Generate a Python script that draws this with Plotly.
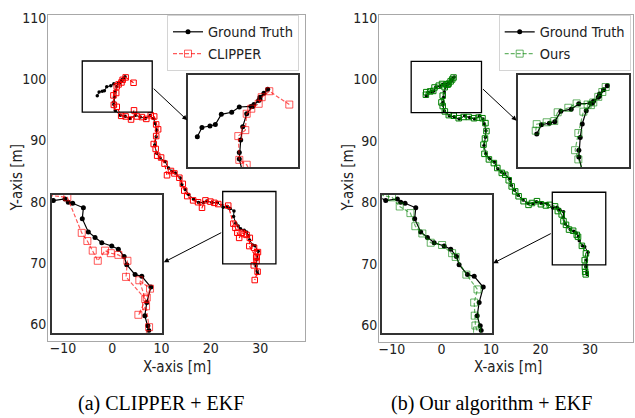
import plotly.graph_objects as go

# ---------------- trajectory data (metres) ----------------
gt_x = [-3.05, -2.68, -2.04, -1.61, -1.13, -0.30, 0.31, 1.24, 1.48, 1.86, 1.96, 2.28, 2.58,
        1.96, 1.38, 0.90, 0.58, 0.42, 0.31, 0.31,
        0.60, 1.60, 2.60, 3.60, 4.70, 5.70, 6.70, 7.70, 8.40, 8.70, 9.00, 8.90, 8.60, 9.00,
        9.70, 10.70, 11.40, 12.10, 12.80, 13.80, 14.10, 14.80, 15.50, 16.50, 17.50, 18.50,
        19.20, 20.20, 21.30,
        22.50, 23.35, 23.59, 23.91, 24.69, 24.61, 25.05, 25.54, 26.03, 26.76, 27.24, 27.66,
        27.85, 28.46, 28.95, 29.61, 29.31, 29.17, 29.39, 29.46]
gt_y = [97.30, 97.90, 98.00, 98.10, 98.76, 98.90, 99.24, 99.28, 99.40, 99.66, 99.88, 100.14, 100.40,
        99.75, 99.28, 98.80, 97.95, 97.08, 96.27, 95.84,
        94.89, 94.08, 93.92, 93.55, 94.08, 93.82, 93.55, 94.08, 93.55, 92.74, 91.66, 90.60, 89.24, 87.90,
        87.10, 86.56, 85.48, 84.95, 84.68, 83.87, 82.80, 81.98, 81.18, 80.37, 79.84, 79.84,
        80.10, 79.84, 79.84,
        79.08, 79.22, 78.94, 78.86, 78.48, 77.58, 76.48, 76.02, 75.58, 75.31, 75.04, 74.43,
        73.75, 72.93, 72.79, 71.89, 70.61, 69.51, 68.69, 68.28]

clipper_x = [4.31, 2.71, 2.10, 1.86, 1.27, 0.90, 0.79, 0.23, 0.31, 0.90,
             1.80, 2.70, 3.80, 4.40, 5.00, 6.00, 6.90, 7.80, 8.50, 8.90, 9.30, 8.90, 8.40,
             8.80, 9.10, 9.90, 10.60, 11.10, 11.90, 12.60, 13.60, 14.30, 14.60, 15.20, 16.40,
             17.40, 18.20, 18.90, 19.90, 20.70, 21.50,
             23.52, 24.57, 24.98, 25.37, 25.74, 26.27, 26.69, 27.24, 27.90, 27.80, 29.20,
             28.77, 29.55, 29.31, 28.70, 29.26, 29.48, 28.90]
clipper_y = [99.40, 100.27, 99.88, 99.45, 99.13, 98.80, 97.73, 97.34, 95.79, 95.47,
             94.00, 93.90, 93.40, 94.90, 93.90, 93.80, 93.50, 94.10, 93.90, 92.60, 91.80, 90.70, 89.40,
             88.60, 87.50, 87.20, 86.20, 84.30, 85.00, 84.60, 83.90, 82.90, 81.80, 80.90, 80.20,
             79.90, 79.00, 80.20, 80.00, 79.80, 79.60,
             79.35, 76.40, 75.72, 74.92, 74.08, 74.92, 74.71, 74.57, 74.08, 72.74, 70.90,
             72.46, 71.76, 71.02, 69.59, 70.30, 68.56, 67.20]

ours_x = [-3.13, -3.05, -2.26, -1.65, -1.38, -0.53, 0.13, 1.01, 1.46, 1.86, 2.18, 2.45,
          1.27, 0.67, 0.27, 0.01, 0.27,
          0.70, 1.50, 2.50, 3.50, 4.50, 5.50, 6.60, 7.50, 8.30, 8.90, 9.10, 8.80, 8.50, 8.70,
          9.60, 10.60, 11.30, 12.20, 12.90, 13.60, 14.20, 14.90, 15.60, 16.60, 17.60, 18.30,
          19.30, 20.10, 21.10, 21.90,
          22.96, 23.52, 24.30, 24.66, 25.17, 25.78, 26.61, 27.34, 27.60, 28.38, 29.19, 28.95,
          28.99, 29.04, 29.16]
ours_y = [97.52, 97.94, 98.06, 98.14, 98.70, 98.99, 99.27, 99.20, 99.33, 99.69, 100.00, 100.32,
          99.16, 98.74, 97.37, 96.27, 95.68,
          94.80, 94.20, 94.10, 93.70, 93.90, 93.90, 93.70, 93.80, 93.70, 92.90, 91.60, 90.40, 89.40, 87.90,
          87.00, 86.40, 85.60, 84.80, 84.50, 83.60, 82.60, 81.80, 81.00, 80.20, 79.60, 79.90,
          80.20, 79.70, 79.50, 79.60,
          79.35, 78.59, 78.04, 76.95, 76.35, 75.58, 75.39, 74.71, 74.40, 72.93, 71.70, 70.61,
          69.52, 68.70, 68.29]

x_ticks = [-10, 0, 10, 20, 30]
y_ticks = [60, 70, 80, 90, 100, 110]

# zoom windows: [x0, x1, y0, y1]
zoom_top_box = [-6.1, 8.1, 94.6, 102.95]
zoom_bot_box = [22.4, 33.2, 69.85, 81.65]

W, H = 635, 418
TICK_FONT = "DejaVu Sans Condensed, DejaVu Sans, sans-serif"
CAPTION_FONT = "Liberation Serif, Times New Roman, serif"
DASH = "4px,2px"


def px_dom(a, b, total):
    return [a / total, b / total]


def py_dom(top, bottom):
    return [1 - bottom / H, 1 - top / H]


fig = go.Figure()

panels = [
    dict(name="CLIPPER", color="red", mark="rgba(255,0,0,0.65)", ex=clipper_x, ey=clipper_y,
         main=("x", "y"), top=("x2", "y2"), bot=("x3", "y3"), legend="legend"),
    dict(name="Ours", color="green", mark="rgba(0,128,0,0.6)", ex=ours_x, ey=ours_y,
         main=("x4", "y4"), top=("x5", "y5"), bot=("x6", "y6"), legend="legend2"),
]

for p in panels:
    # main view
    mx, my = p["main"]
    fig.add_trace(go.Scatter(x=gt_x, y=gt_y, xaxis=mx, yaxis=my, mode="lines+markers",
                             line=dict(color="black", width=1),
                             marker=dict(color="black", size=3.5), showlegend=False))
    fig.add_trace(go.Scatter(x=p["ex"], y=p["ey"], xaxis=mx, yaxis=my, mode="lines+markers",
                             line=dict(color=p["color"], width=1.1, dash=DASH),
                             marker=dict(symbol="square-open", color=p["color"], size=5.5,
                                         line=dict(width=1)),
                             showlegend=False))
    # zoomed views
    for key in ("top", "bot"):
        ax, ay = p[key]
        first = key == "top"
        fig.add_trace(go.Scatter(x=gt_x, y=gt_y, xaxis=ax, yaxis=ay, mode="lines+markers",
                                 name="Ground Truth", legend=p["legend"], showlegend=first,
                                 line=dict(color="black", width=1.2),
                                 marker=dict(color="black", size=5)))
        fig.add_trace(go.Scatter(x=p["ex"], y=p["ey"], xaxis=ax, yaxis=ay, mode="lines+markers",
                                 name=p["name"], legend=p["legend"], showlegend=first,
                                 line=dict(color=p["mark"], width=1.2, dash=DASH),
                                 marker=dict(symbol="square-open", color=p["mark"], size=7,
                                             line=dict(width=1))))

title_font = dict(family=TICK_FONT, size=15, color="#222")
main_axis = dict(showgrid=False, zeroline=False, showline=True, mirror=True,
                 linecolor="#a8a8a8", linewidth=1, ticks="",
                 tickfont=dict(family=TICK_FONT, size=14, color="#222"))
inset_axis = dict(showgrid=False, zeroline=False, showline=True, mirror=True,
                  linecolor="#333", linewidth=1.5, showticklabels=False, ticks="")
legend_style = dict(xanchor="right", y=1 - 10 / H, yanchor="top",
                    bgcolor="white", bordercolor="#d4d4d4", borderwidth=1,
                    font=dict(family=TICK_FONT, size=14.5, color="#222"))

layout = dict(
    width=W, height=H, margin=dict(l=0, r=0, t=0, b=0),
    paper_bgcolor="white", plot_bgcolor="white",
    # left panel
    xaxis=dict(main_axis, domain=px_dom(48, 305, W), range=[-13.05, 39.1], anchor="y",
               tickvals=x_ticks, ticklabelstandoff=-6),
    yaxis=dict(main_axis, domain=py_dom(10, 340), range=[57.26, 110.48], anchor="x",
               tickvals=y_ticks, ticklabelstandoff=-2),
    xaxis2=dict(inset_axis, domain=px_dom(187.7, 298.3, W), range=[-3.82, 5.03], anchor="y2"),
    yaxis2=dict(inset_axis, domain=py_dom(70.7, 164), range=[95.32, 101.34], anchor="x2"),
    xaxis3=dict(inset_axis, domain=px_dom(51.7, 161.7, W), range=[22.38, 30.4], anchor="y3"),
    yaxis3=dict(inset_axis, domain=py_dom(192, 331.7), range=[68.1, 79.57], anchor="x3"),
    # right panel
    xaxis4=dict(main_axis, domain=px_dom(379, 633, W), range=[-12.6, 38.7], anchor="y4",
                tickvals=x_ticks, ticklabelstandoff=-6),
    yaxis4=dict(main_axis, domain=py_dom(10.5, 341), range=[57.3, 110.43], anchor="x4",
                tickvals=y_ticks, ticklabelstandoff=-2),
    xaxis5=dict(inset_axis, domain=px_dom(518.3, 629, W), range=[-4.52, 4.31], anchor="y5"),
    yaxis5=dict(inset_axis, domain=py_dom(70.7, 164), range=[95.19, 101.1], anchor="x5"),
    xaxis6=dict(inset_axis, domain=px_dom(382.3, 492.3, W), range=[22.25, 30.27], anchor="y6"),
    yaxis6=dict(inset_axis, domain=py_dom(192, 331.7), range=[68.1, 79.57], anchor="x6"),
    legend=dict(legend_style, x=299 / W),
    legend2=dict(legend_style, x=630.7 / W),
)
fig.update_layout(**layout)

shapes = []
annotations = []
for xr, yr in (("x", "y"), ("x4", "y4")):
    for b in (zoom_top_box, zoom_bot_box):
        shapes.append(dict(type="rect", xref=xr, yref=yr, x0=b[0], x1=b[1], y0=b[2], y1=b[3],
                           line=dict(color="black", width=1.3)))
    # connector arrows from the zoom boxes to their enlarged views
    annotations.append(dict(xref=xr, yref=yr, axref=xr, ayref=yr, x=15.2, y=93.3,
                            ax=zoom_top_box[1], ay=98.66, text="", showarrow=True,
                            arrowhead=2, arrowsize=1, arrowwidth=1, arrowcolor="black"))
    annotations.append(dict(xref=xr, yref=yr, axref=xr, ayref=yr, x=10.45, y=70.1,
                            ax=zoom_bot_box[0], ay=75.05, text="", showarrow=True,
                            arrowhead=2, arrowsize=1, arrowwidth=1, arrowcolor="black"))

# axis titles
for cx in (176.5, 507.5):
    annotations.append(dict(xref="paper", yref="paper", x=cx / W, y=1 - 366 / H,
                            text="X-axis [m]", showarrow=False, xanchor="center",
                            yanchor="middle", font=title_font))
for cx in (16.5, 347.5):
    annotations.append(dict(xref="paper", yref="paper", x=cx / W, y=1 - 175 / H,
                            text="Y-axis [m]", showarrow=False, textangle=-90,
                            xanchor="center", yanchor="middle", font=title_font))

annotations.append(dict(xref="paper", yref="paper", x=160.7 / W, y=1 - 403 / H,
                        text="(a) CLIPPER + EKF", showarrow=False, xanchor="center",
                        yanchor="middle", font=dict(family=CAPTION_FONT, size=20, color="black")))
annotations.append(dict(xref="paper", yref="paper", x=491 / W, y=1 - 403 / H,
                        text="(b) Our algorithm + EKF", showarrow=False, xanchor="center",
                        yanchor="middle", font=dict(family=CAPTION_FONT, size=20, color="black")))

fig.update_layout(shapes=shapes, annotations=annotations)
fig.write_html("out.html")
